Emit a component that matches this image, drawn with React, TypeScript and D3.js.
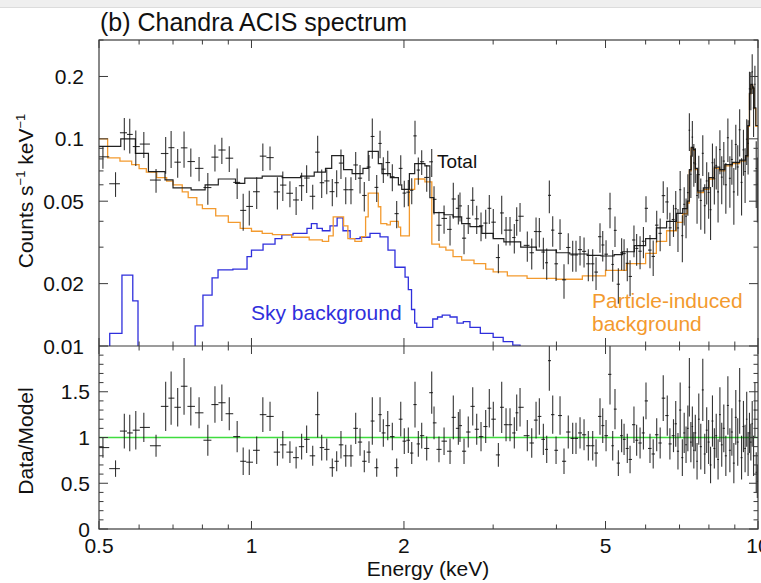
import React from "react";
import * as d3 from "d3";

// ---------- data ----------
// Particle-induced background model: [energy keV, counts/s/keV] (step, starts at energy)
const particleModel: [number, number][] = [
  [0.5, 0.1], [0.52, 0.081], [0.55, 0.078], [0.58, 0.075], [0.6, 0.0718], [0.62, 0.069],
  [0.65, 0.065], [0.68, 0.0625], [0.7, 0.06], [0.73, 0.0555], [0.75, 0.052], [0.78, 0.048],
  [0.8, 0.046], [0.85, 0.0425], [0.9, 0.0395], [0.95, 0.037], [1.0, 0.0358], [1.05, 0.035],
  [1.1, 0.0345], [1.2, 0.0335], [1.3, 0.0325], [1.38, 0.032], [1.42, 0.034], [1.45, 0.042],
  [1.52, 0.038], [1.55, 0.033], [1.6, 0.032], [1.65, 0.0337], [1.68, 0.042], [1.7, 0.0547],
  [1.78, 0.047], [1.8, 0.039], [1.85, 0.0384], [1.88, 0.04], [1.95, 0.0375], [1.97, 0.034],
  [2.05, 0.057], [2.1, 0.064], [2.2, 0.062], [2.27, 0.031], [2.35, 0.03], [2.42, 0.029],
  [2.5, 0.027], [2.6, 0.026], [2.75, 0.025], [2.9, 0.0235], [3.0, 0.0228], [3.2, 0.0218],
  [3.5, 0.0212], [4.0, 0.021], [4.5, 0.0218], [5.0, 0.0232], [5.5, 0.025], [6.0, 0.028],
  [6.3, 0.032], [6.6, 0.036], [6.9, 0.0395], [7.1, 0.0435], [7.25, 0.049], [7.32, 0.07],
  [7.38, 0.09], [7.46, 0.088], [7.52, 0.071], [7.6, 0.055], [7.8, 0.057], [8.0, 0.064],
  [8.2, 0.072], [8.4, 0.07], [8.6, 0.074], [8.9, 0.076], [9.2, 0.078], [9.45, 0.082],
  [9.55, 0.115], [9.62, 0.165], [9.68, 0.182], [9.76, 0.175], [9.82, 0.14], [9.9, 0.115],
];

// Sky background model
const skyModel: [number, number][] = [
  [0.5, 0.001], [0.525, 0.0115], [0.555, 0.022], [0.583, 0.0165], [0.597, 0.001],
  [0.774, 0.0125], [0.802, 0.0176], [0.836, 0.0213], [0.859, 0.0233], [0.919, 0.0235],
  [0.98, 0.027], [1.0, 0.029], [1.054, 0.031], [1.113, 0.033], [1.148, 0.0344],
  [1.208, 0.035], [1.287, 0.037], [1.313, 0.039], [1.347, 0.037], [1.38, 0.036],
  [1.429, 0.038], [1.476, 0.0415], [1.516, 0.036], [1.566, 0.033], [1.638, 0.0335],
  [1.714, 0.035], [1.794, 0.0336], [1.86, 0.029], [1.92, 0.024], [2.01, 0.0215],
  [2.04, 0.0187], [2.07, 0.015], [2.1, 0.0129], [2.12, 0.0123], [2.28, 0.0135],
  [2.33, 0.0138], [2.38, 0.0141], [2.466, 0.0138], [2.546, 0.0129], [2.62, 0.0131],
  [2.7, 0.0123], [2.83, 0.0115], [3.0, 0.011], [3.14, 0.0105], [3.28, 0.0101], [3.39, 0.005],
];

// Total model
const totalModel: [number, number][] = [
  [0.5, 0.092], [0.552, 0.1], [0.59, 0.085], [0.626, 0.0695], [0.675, 0.0634], [0.7, 0.058],
  [0.76, 0.0567], [0.81, 0.06], [0.86, 0.064], [0.93, 0.061], [0.97, 0.0646], [1.05, 0.066],
  [1.15, 0.065], [1.25, 0.066], [1.33, 0.069], [1.4, 0.072], [1.44, 0.083], [1.52, 0.071],
  [1.58, 0.068], [1.66, 0.072], [1.7, 0.087], [1.78, 0.076], [1.81, 0.068], [1.88, 0.065],
  [1.95, 0.06], [1.98, 0.057], [2.05, 0.068], [2.1, 0.076], [2.2, 0.074], [2.25, 0.052],
  [2.29, 0.044], [2.4, 0.043], [2.5, 0.042], [2.6, 0.039], [2.7, 0.0377], [2.85, 0.035],
  [3.0, 0.033], [3.15, 0.0318], [3.4, 0.03], [3.65, 0.029], [4.0, 0.0282], [4.25, 0.0278],
  [4.6, 0.0274], [4.9, 0.0272], [5.2, 0.0276], [5.4, 0.0285], [5.7, 0.0305], [6.0, 0.033],
  [6.3, 0.0372], [6.6, 0.04], [6.9, 0.0437], [7.1, 0.046], [7.25, 0.05], [7.32, 0.071],
  [7.38, 0.091], [7.46, 0.089], [7.52, 0.072], [7.6, 0.056], [7.8, 0.058], [8.0, 0.065],
  [8.2, 0.073], [8.4, 0.071], [8.6, 0.075], [8.9, 0.077], [9.2, 0.079], [9.45, 0.083],
  [9.55, 0.116], [9.62, 0.166], [9.68, 0.183], [9.76, 0.176], [9.82, 0.141], [9.9, 0.116],
];

// Data points: [energy keV, data/model ratio, ratio error]
const dataPoints: [number, number, number][] = [
  [0.509, 0.89, 0.11], [0.539, 0.66, 0.09], [0.561, 1.07, 0.19], [0.575, 1.05, 0.2],
  [0.591, 1.08, 0.21], [0.613, 1.11, 0.16], [0.648, 0.91, 0.12], [0.677, 1.34, 0.27],
  [0.694, 1.43, 0.29], [0.715, 1.33, 0.21], [0.736, 1.56, 0.31], [0.759, 1.34, 0.21],
  [0.788, 1.27, 0.17], [0.82, 0.97, 0.17], [0.847, 1.36, 0.2], [0.874, 1.38, 0.2],
  [0.904, 1.26, 0.18], [0.937, 1.01, 0.17], [0.963, 0.74, 0.15], [0.99, 0.73, 0.14],
  [1.024, 0.86, 0.15], [1.053, 1.25, 0.19], [1.088, 1.23, 0.16], [1.125, 0.84, 0.15],
  [1.153, 0.92, 0.15], [1.191, 0.84, 0.12], [1.225, 0.78, 0.12], [1.256, 0.9, 0.14],
  [1.285, 0.98, 0.15], [1.321, 0.8, 0.11], [1.351, 1.25, 0.25], [1.376, 0.89, 0.14],
  [1.408, 0.87, 0.12], [1.444, 0.67, 0.1], [1.473, 0.74, 0.11], [1.502, 0.92, 0.15],
  [1.535, 0.8, 0.12], [1.572, 0.8, 0.12], [1.606, 1.1, 0.17], [1.638, 0.95, 0.15],
  [1.67, 0.74, 0.12], [1.706, 0.84, 0.12], [1.732, 1.18, 0.26], [1.767, 0.67, 0.1],
  [1.794, 1.25, 0.19], [1.821, 1.05, 0.15], [1.858, 1.13, 0.16], [1.897, 1.01, 0.15],
  [1.935, 0.67, 0.1], [1.971, 1.2, 0.19], [2.003, 0.96, 0.14], [2.04, 0.97, 0.14],
  [2.072, 0.83, 0.12], [2.103, 1.36, 0.25], [2.135, 0.93, 0.14], [2.168, 1.02, 0.14],
  [2.218, 0.88, 0.13], [2.269, 1.49, 0.23], [2.293, 1.16, 0.18], [2.345, 0.87, 0.14],
  [2.4, 0.96, 0.15], [2.466, 0.85, 0.14], [2.503, 1.22, 0.24], [2.561, 1.1, 0.18],
  [2.58, 1.13, 0.18], [2.628, 0.85, 0.14], [2.679, 1.06, 0.17], [2.734, 1.34, 0.21],
  [2.784, 1.09, 0.17], [2.839, 1.01, 0.16], [2.9, 1.12, 0.18], [2.948, 1.32, 0.21],
  [3.002, 1.2, 0.19], [3.072, 0.81, 0.13], [3.119, 1.33, 0.28], [3.181, 1.14, 0.18],
  [3.239, 1.14, 0.18], [3.303, 1.05, 0.17], [3.339, 1.27, 0.2], [3.39, 1.33, 0.21],
  [3.504, 1.02, 0.17], [3.575, 0.94, 0.16], [3.646, 1.19, 0.2], [3.701, 1.23, 0.2],
  [3.769, 0.98, 0.17], [3.827, 0.87, 0.15], [3.873, 1.84, 0.33], [3.933, 1.25, 0.21],
  [3.993, 0.86, 0.15], [4.066, 1.24, 0.21], [4.14, 0.74, 0.14], [4.221, 1.06, 0.18],
  [4.307, 0.99, 0.17], [4.372, 0.99, 0.17], [4.453, 1.05, 0.17], [4.535, 1.03, 0.17],
  [4.624, 0.91, 0.16], [4.717, 0.91, 0.16], [4.789, 0.83, 0.15], [4.876, 1.23, 0.2],
  [4.937, 1.13, 0.19], [5.012, 1.02, 0.17], [5.103, 1.69, 0.33], [5.166, 0.91, 0.16],
  [5.22, 1.31, 0.22], [5.3, 0.72, 0.14], [5.38, 1.02, 0.18], [5.44, 0.98, 0.17],
  [5.52, 0.88, 0.16], [5.59, 0.76, 0.15], [5.69, 1.14, 0.2], [5.76, 0.97, 0.17],
  [5.85, 0.94, 0.17], [5.94, 1.05, 0.18], [6.01, 1.4, 0.2], [6.12, 0.88, 0.16],
  [6.21, 0.82, 0.16], [6.31, 1.03, 0.18], [6.41, 0.94, 0.17], [6.5, 1.43, 0.25],
  [6.62, 1.24, 0.22], [6.7, 0.93, 0.17], [6.81, 1.02, 0.18], [6.88, 1.15, 0.25],
  [6.95, 0.85, 0.2], [7.02, 1.3, 0.3], [7.09, 0.78, 0.2], [7.15, 1.05, 0.22],
  [7.21, 0.92, 0.2], [7.27, 1.1, 0.25], [7.32, 1.55, 0.32], [7.37, 0.95, 0.22],
  [7.42, 1.12, 0.22], [7.47, 0.86, 0.2], [7.52, 1.05, 0.2], [7.58, 0.74, 0.2],
  [7.64, 1.2, 0.28], [7.71, 0.9, 0.25], [7.78, 1.52, 0.34], [7.85, 0.82, 0.22],
  [7.92, 1.08, 0.25], [7.99, 0.95, 0.24], [8.06, 0.7, 0.2], [8.13, 1.18, 0.28],
  [8.2, 0.88, 0.22], [8.27, 1.02, 0.24], [8.34, 0.76, 0.22], [8.41, 1.25, 0.3],
  [8.48, 0.92, 0.24], [8.56, 1.1, 0.26], [8.64, 0.8, 0.22], [8.72, 1.35, 0.32],
  [8.8, 0.86, 0.24], [8.88, 1.06, 0.26], [8.96, 0.72, 0.22], [9.04, 1.22, 0.3],
  [9.12, 0.95, 0.26], [9.2, 1.4, 0.36], [9.28, 0.78, 0.24], [9.36, 1.12, 0.28],
  [9.43, 0.88, 0.26], [9.5, 1.2, 0.3], [9.56, 0.82, 0.24], [9.62, 1.05, 0.22],
  [9.68, 0.95, 0.2], [9.74, 1.15, 0.25], [9.8, 0.8, 0.22], [9.86, 1.3, 0.3],
  [9.92, 0.62, 0.22], [9.97, 0.52, 0.18],
];

const xTicks = [0.5, 0.6, 0.7, 0.8, 0.9, 1, 2, 3, 4, 5, 6, 7, 8, 9, 10];
const xLabels = [0.5, 1, 2, 5, 10];
const yTopTicks = [0.01, 0.02, 0.03, 0.04, 0.05, 0.06, 0.07, 0.08, 0.09, 0.1, 0.2, 0.3];
const yTopLabels = [0.01, 0.02, 0.05, 0.1, 0.2];
const yBotTicks = [0, 0.1, 0.2, 0.3, 0.4, 0.5, 0.6, 0.7, 0.8, 0.9, 1, 1.1, 1.2, 1.3, 1.4, 1.5, 1.6, 1.7, 1.8, 1.9];
const yBotLabels = [0, 0.5, 1, 1.5];

// ---------- layout ----------
const W = 761, H = 583;
const L = 99, R = 758, T = 40, M = 346, B = 529;
const FONT = "'Liberation Sans', Arial, Helvetica, sans-serif";
const ORANGE = "#f39a2e";
const BLUE = "#2f2fdc";
const GREEN = "#3fdc3f";
const AXIS = "#3a3a3a";

function stepAt(model: [number, number][], e: number) {
  let v = model[0][1];
  for (const [ee, vv] of model) if (ee <= e) v = vv;
  return v;
}

export default function App() {
  const x = d3.scaleLog().domain([0.5, 10]).range([L, R]);
  const yTop = d3.scaleLog().domain([0.01, 0.3]).range([M, T]);
  const yBot = d3.scaleLinear().domain([0, 2]).range([B, M]);

  const stepPath = (model: [number, number][]) =>
    d3
      .line<[number, number]>()
      .x((d) => x(d[0]))
      .y((d) => yTop(d[1]))
      .curve(d3.curveStepAfter)([...model, [10, model[model.length - 1][1]]]) || "";

  const energies = dataPoints.map((d) => d[0]);
  const edges = energies.map((e, i) => {
    const hi = i < energies.length - 1 ? Math.sqrt(e * energies[i + 1]) : Math.min(10, (e * e) / Math.sqrt(e * energies[i - 1]));
    const lo = i > 0 ? Math.sqrt(e * energies[i - 1]) : Math.max(0.5, (e * e) / hi);
    return [lo, hi];
  });

  const fmt = (v: number) => String(v);
  const isMajorX = (v: number) => xLabels.includes(v);
  const isMajorYT = (v: number) => yTopLabels.includes(v);
  const isMajorYB = (v: number) => yBotLabels.includes(v);

  const tickStroke = { stroke: AXIS, strokeWidth: 1 };

  return (
    <svg width={W} height={H} style={{ position: "absolute", left: 0, top: 0, background: "#fff" }} fontFamily={FONT}>
      <defs>
        <clipPath id="clipTop">
          <rect x={L} y={T} width={R - L} height={M - T} />
        </clipPath>
        <clipPath id="clipBot">
          <rect x={L} y={M} width={R - L} height={B - M} />
        </clipPath>
      </defs>
      <rect x={0} y={0} width={W} height={H} fill="#fff" />
      <rect x={0} y={0} width={W} height={7} fill="#efefef" />
      <line x1={0} x2={W} y1={7.5} y2={7.5} stroke="#dcdcdc" />

      {/* title */}
      <text x={100} y={31} fontSize={25} fill="#111">(b) Chandra ACIS spectrum</text>

      {/* top panel models */}
      <g clipPath="url(#clipTop)" fill="none">
        <path d={stepPath(skyModel)} stroke={BLUE} strokeWidth={1.3} />
        <path d={stepPath(particleModel)} stroke={ORANGE} strokeWidth={1.3} />
        <path d={stepPath(totalModel)} stroke="#222" strokeWidth={1.2} />
        {dataPoints.map((d, i) => {
          const m = stepAt(totalModel, d[0]);
          const v = d[1] * m;
          const lo = Math.max(1e-4, (d[1] - d[2]) * m);
          const hi = (d[1] + d[2]) * m;
          const cy = yTop(v);
          const cx = x(d[0]);
          return (
            <g key={i} stroke="#111" strokeWidth={1.1} strokeOpacity={0.85}>
              <line x1={x(edges[i][0])} x2={x(edges[i][1])} y1={cy} y2={cy} />
              <line x1={cx} x2={cx} y1={yTop(lo)} y2={yTop(hi)} />
            </g>
          );
        })}
      </g>

      {/* bottom panel */}
      <g clipPath="url(#clipBot)">
        <line x1={L} x2={R} y1={yBot(1)} y2={yBot(1)} stroke={GREEN} strokeWidth={1.3} />
        {dataPoints.map((d, i) => {
          const cy = yBot(d[1]);
          const cx = x(d[0]);
          return (
            <g key={i} stroke="#111" strokeWidth={1.1} strokeOpacity={0.85}>
              <line x1={x(edges[i][0])} x2={x(edges[i][1])} y1={cy} y2={cy} />
              <line x1={cx} x2={cx} y1={yBot(d[1] - d[2])} y2={yBot(d[1] + d[2])} />
            </g>
          );
        })}
      </g>

      {/* frames */}
      <rect x={L} y={T} width={R - L} height={B - T} fill="none" stroke={AXIS} strokeWidth={1.2} />
      <line x1={L} x2={R} y1={M} y2={M} stroke={AXIS} strokeWidth={1.2} />

      {/* x ticks */}
      {xTicks.map((t) => {
        const len = isMajorX(t) ? 8 : 4.5;
        const px = x(t);
        return (
          <g key={"x" + t} {...tickStroke}>
            <line x1={px} x2={px} y1={T} y2={T + len} />
            <line x1={px} x2={px} y1={M} y2={M - len} />
            <line x1={px} x2={px} y1={M} y2={M + len} />
            <line x1={px} x2={px} y1={B} y2={B - len} />
          </g>
        );
      })}
      {/* y ticks top */}
      {yTopTicks.map((t) => {
        const len = isMajorYT(t) ? 9 : 4.5;
        const py = yTop(t);
        return (
          <g key={"yt" + t} {...tickStroke}>
            <line x1={L} x2={L + len} y1={py} y2={py} />
            <line x1={R} x2={R - len} y1={py} y2={py} />
          </g>
        );
      })}
      {yBotTicks.map((t) => {
        const len = isMajorYB(t) ? 9 : 4.5;
        const py = yBot(t);
        return (
          <g key={"yb" + t} {...tickStroke}>
            <line x1={L} x2={L + len} y1={py} y2={py} />
            <line x1={R} x2={R - len} y1={py} y2={py} />
          </g>
        );
      })}

      {/* tick labels */}
      {xLabels.map((t) => (
        <text key={"xl" + t} x={x(t)} y={553} fontSize={21} textAnchor="middle" fill="#111">{fmt(t)}</text>
      ))}
      {yTopLabels.map((t) => (
        <text key={"ytl" + t} x={84} y={yTop(t)} dy="0.36em" fontSize={21} textAnchor="end" fill="#111">{fmt(t)}</text>
      ))}
      {yBotLabels.map((t) => (
        <text key={"ybl" + t} x={90} y={yBot(t)} dy="0.36em" fontSize={21} textAnchor="end" fill="#111">{fmt(t)}</text>
      ))}

      {/* axis titles */}
      <text transform="translate(33,191) rotate(-90)" fontSize={21} textAnchor="middle" fill="#111">
        Counts s<tspan dy={-8} fontSize={13}>−1</tspan>
        <tspan dy={8}> keV</tspan>
        <tspan dy={-8} fontSize={13}>−1</tspan>
      </text>
      <text transform="translate(33,441) rotate(-90)" fontSize={21} textAnchor="middle" fill="#111">Data/Model</text>
      <text x={428} y={576} fontSize={21} textAnchor="middle" fill="#111">Energy (keV)</text>

      {/* annotations */}
      <text x={437} y={168} fontSize={19} fill="#111">Total</text>
      <text x={251} y={320} fontSize={21} fill={BLUE}>Sky background</text>
      <text x={592} y={308} fontSize={21} fill={ORANGE}>Particle-induced</text>
      <text x={592} y={331} fontSize={21} fill={ORANGE}>background</text>
    </svg>
  );
}
